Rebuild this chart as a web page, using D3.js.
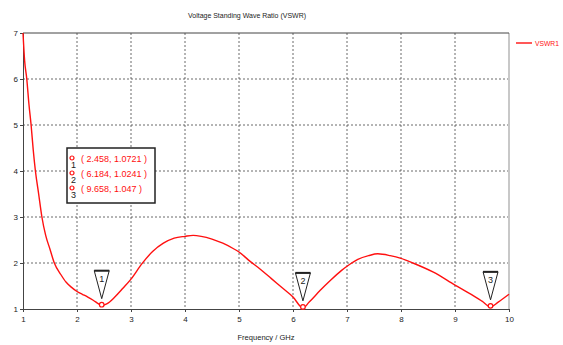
<!DOCTYPE html>
<html>
<head>
<meta charset="utf-8">
<script src="https://cdn.jsdelivr.net/npm/d3@7"></script>
<style>
  body { margin: 0; background: #fff; }
  text { font-family: "Liberation Sans", Arial, sans-serif; }
</style>
</head>
<body>
<div id="chart"></div>
<script>
// VSWR curve
const freq = [1.0, 1.03, 1.07, 1.11, 1.15, 1.19, 1.23, 1.29, 1.35, 1.42, 1.5, 1.58, 1.7, 1.8, 1.9, 2.0, 2.1, 2.2, 2.3, 2.4, 2.458,
  2.55, 2.7, 2.85, 3.0, 3.2, 3.4, 3.6, 3.8, 4.0, 4.15, 4.3, 4.5, 4.7, 4.9, 5.0, 5.2, 5.4, 5.6, 5.8, 6.0, 6.184,
  6.3, 6.5, 6.7, 6.9, 7.0, 7.2, 7.4, 7.57, 7.8, 8.0, 8.22, 8.6, 9.0, 9.3, 9.5, 9.658, 9.8, 10.0];
const vswr = [7.0, 6.4, 6.0, 5.45, 5.0, 4.45, 4.0, 3.5, 3.0, 2.6, 2.3, 2.0, 1.75, 1.58, 1.47, 1.38, 1.32, 1.26, 1.19, 1.11, 1.072,
  1.11, 1.26, 1.45, 1.65, 1.98, 2.25, 2.43, 2.54, 2.58, 2.6, 2.58, 2.52, 2.43, 2.31, 2.24, 2.04, 1.86, 1.66, 1.46, 1.26, 1.024,
  1.15, 1.4, 1.63, 1.84, 1.93, 2.08, 2.16, 2.2, 2.16, 2.1, 2.0, 1.8, 1.52, 1.32, 1.17, 1.047, 1.15, 1.32];
const markerFreq = [2.458, 6.184, 9.658];
const markerVal = [1.0721, 1.0241, 1.047];
const markerText = ["( 2.458, 1.0721 )", "( 6.184, 1.0241 )", "( 9.658, 1.047 )"];
const xTicks = [1, 2, 3, 4, 5, 6, 7, 8, 9, 10];
const yTicks = [1, 2, 3, 4, 5, 6, 7];

const W = 563, H = 345;
const plotL = 23, plotR = 509, plotT = 33, plotB = 309;
const red = "#ff1010";

const svg = d3.select("#chart").append("svg")
  .attr("width", W).attr("height", H);

const x = d3.scaleLinear().domain([1, 10]).range([plotL, plotR]);
const y = d3.scaleLinear().domain([1, 7]).range([plotB, plotT]);

// grid
svg.append("g").selectAll("line").data(xTicks.slice(1, -1)).join("line")
  .attr("x1", d => x(d)).attr("x2", d => x(d))
  .attr("y1", plotT).attr("y2", plotB)
  .attr("stroke", "#444").attr("stroke-width", 0.8).attr("stroke-dasharray", "2,2");
svg.append("g").selectAll("line").data(yTicks.slice(1, -1)).join("line")
  .attr("x1", plotL).attr("x2", plotR)
  .attr("y1", d => y(d)).attr("y2", d => y(d))
  .attr("stroke", "#444").attr("stroke-width", 0.8).attr("stroke-dasharray", "2,2");

// frame
svg.append("line").attr("x1", plotR).attr("x2", plotR).attr("y1", plotT).attr("y2", plotB)
  .attr("stroke", "#c8c8c8").attr("stroke-width", 2);
svg.append("line").attr("x1", plotL).attr("x2", plotR).attr("y1", plotT).attr("y2", plotT)
  .attr("stroke", "#444").attr("stroke-width", 1);

// axes
const xAxis = svg.append("g").attr("transform", `translate(0,${plotB})`)
  .call(d3.axisBottom(x).tickValues(xTicks).tickSize(3).tickFormat(d3.format("d")));
const yAxis = svg.append("g").attr("transform", `translate(${plotL},0)`)
  .call(d3.axisLeft(y).tickValues(yTicks).tickSize(3).tickFormat(d3.format("d")));
[xAxis, yAxis].forEach(a => {
  a.select(".domain").attr("stroke", "#444");
  a.selectAll(".tick line").attr("stroke", "#444");
  a.selectAll("text").attr("fill", "#222").style("font-size", "8px")
    .style("font-family", "Liberation Sans, Arial, sans-serif");
});
xAxis.selectAll("text").attr("dy", "0.9em");
yAxis.selectAll("text").attr("x", -5);

// titles
svg.append("text").attr("x", 247).attr("y", 18).attr("text-anchor", "middle")
  .attr("font-size", 8).attr("fill", "#222")
  .attr("textLength", 118).attr("lengthAdjust", "spacingAndGlyphs")
  .text("Voltage Standing Wave Ratio (VSWR)");
svg.append("text").attr("x", 266).attr("y", 340).attr("text-anchor", "middle")
  .attr("font-size", 8).attr("fill", "#222")
  .attr("textLength", 57).attr("lengthAdjust", "spacingAndGlyphs")
  .text("Frequency / GHz");

// curve
const pts = freq.map((f, i) => [f, vswr[i]]);
svg.append("path").datum(pts)
  .attr("fill", "none").attr("stroke", red).attr("stroke-width", 1.4)
  .attr("d", d3.line().x(d => x(d[0])).y(d => y(d[1])).curve(d3.curveMonotoneX));

// markers on curve
svg.append("g").selectAll("circle").data(markerFreq).join("circle")
  .attr("cx", d => x(d)).attr("cy", (d, i) => y(markerVal[i]) - 1)
  .attr("r", 2.3).attr("fill", "#fff").attr("stroke", red).attr("stroke-width", 1.2);

// marker flags
const flag = svg.append("g").selectAll("g").data(markerFreq).join("g")
  .attr("transform", (d, i) => `translate(${x(d)},${y(markerVal[i]) - 7})`);
flag.append("path")
  .attr("d", "M-7.5,-28 L7.5,-28 L0,0 Z")
  .attr("fill", "#fff").attr("stroke", "#222").attr("stroke-width", 1);
flag.append("line").attr("x1", -7.5).attr("x2", 7.5).attr("y1", -28).attr("y2", -28)
  .attr("stroke", "#222").attr("stroke-width", 2);
flag.append("text").attr("y", -17).attr("text-anchor", "middle")
  .attr("font-size", 9).attr("fill", "#222").text((d, i) => i + 1);

// marker table
const box = svg.append("g").attr("transform", "translate(67,148)");
box.append("rect").attr("width", 88).attr("height", 55)
  .attr("fill", "#fff").attr("stroke", "#222").attr("stroke-width", 1.5);
const row = box.selectAll("g").data(markerText).join("g")
  .attr("transform", (d, i) => `translate(0,${10 + i * 15})`);
row.append("circle").attr("cx", 5).attr("cy", 0).attr("r", 2)
  .attr("fill", "none").attr("stroke", red).attr("stroke-width", 1.2);
row.append("text").attr("x", 4).attr("y", 10).attr("font-size", 9).attr("fill", "#222")
  .text((d, i) => i + 1);
row.append("text").attr("x", 14).attr("y", 3.5).attr("font-size", 9).attr("fill", red)
  .text(d => d);

// legend
svg.append("line").attr("x1", 516).attr("x2", 532).attr("y1", 43).attr("y2", 43)
  .attr("stroke", red).attr("stroke-width", 1.4);
svg.append("text").attr("x", 535).attr("y", 46).attr("font-size", 8).attr("fill", red)
  .attr("textLength", 24).attr("lengthAdjust", "spacingAndGlyphs")
  .text("VSWR1");
</script>
</body>
</html>
